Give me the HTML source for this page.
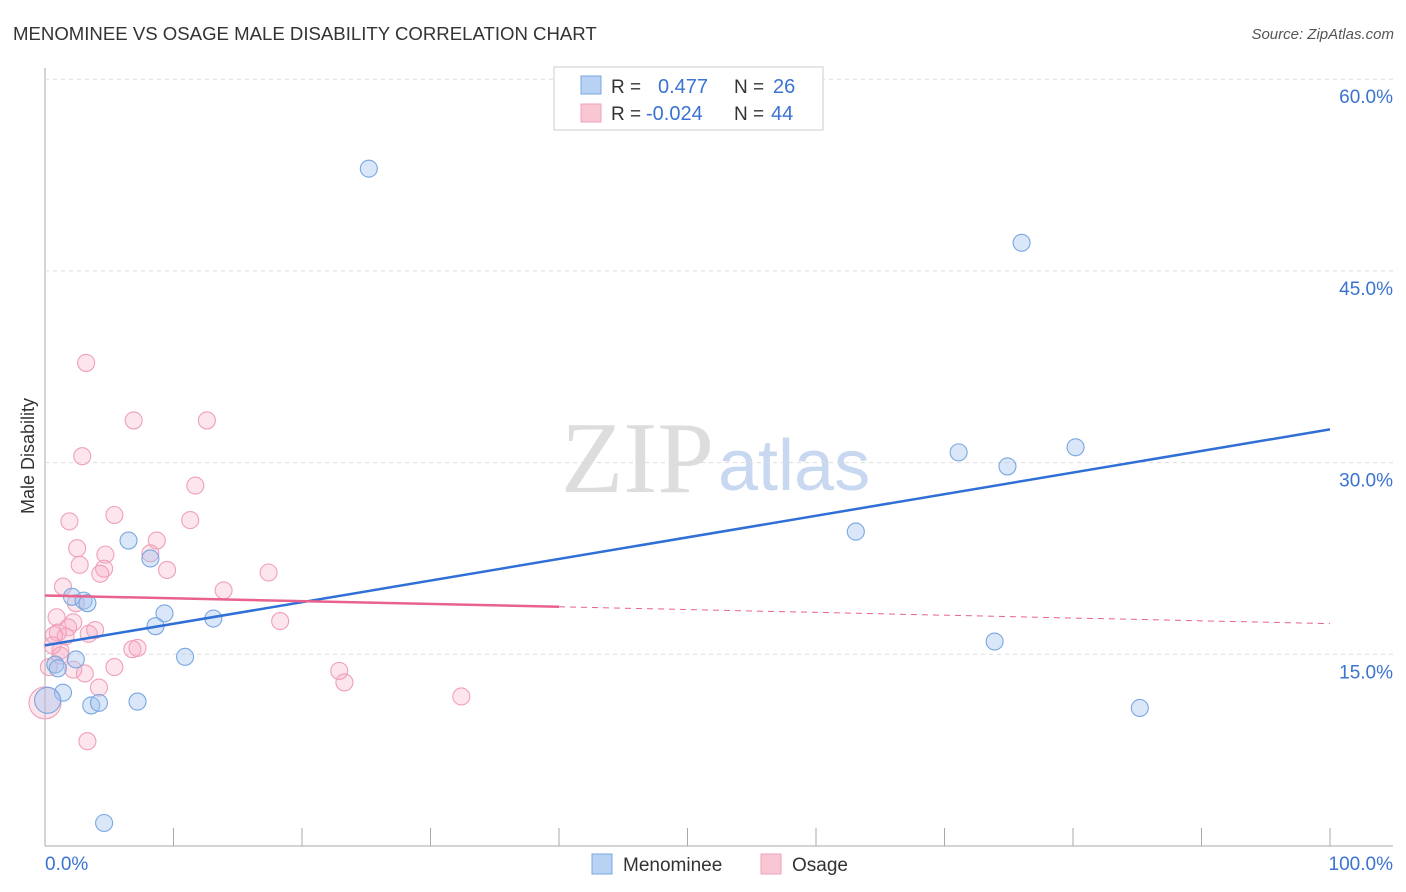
<!DOCTYPE html>
<html><head><meta charset="utf-8"><style>
body{margin:0;background:#fff;font-family:"Liberation Sans",sans-serif}
svg{display:block}
</style></head><body>
<svg id="c" width="1406" height="892">
<text x="13" y="40" font-size="18.6" fill="#333">MENOMINEE VS OSAGE MALE DISABILITY CORRELATION CHART</text>
<text x="1394" y="39" font-size="15" fill="#555" font-style="italic" text-anchor="end">Source: ZipAtlas.com</text>
<text x="714" y="492" font-size="102" font-family="Liberation Serif" fill="#ddd" text-anchor="end">ZIP</text>
<text x="718" y="490" font-size="72" fill="#c8d8f0">atlas</text>
<text transform="translate(34,456) rotate(-90)" font-size="18" fill="#333" text-anchor="middle">Male Disability</text>
<g id="grid"></g><g id="pts"></g><g id="lines"></g>
<g>
<rect x="554" y="67" width="269" height="63" fill="#fff" stroke="#ccc"/>
<rect x="581" y="76" width="20" height="18" fill="#b8d2f4" stroke="#7aa7e0"/>
<rect x="581" y="104" width="20" height="18" fill="#f9c6d4" stroke="#f0a0b8"/>
<text x="611" y="93" font-size="19" fill="#333">R = </text><text x="658" y="93" font-size="20" fill="#3b73d1">0.477</text>
<text x="734" y="93" font-size="19" fill="#333">N = </text><text x="773" y="93" font-size="20" fill="#3b73d1">26</text>
<text x="611" y="120" font-size="19" fill="#333">R = </text><text x="646" y="120" font-size="20" fill="#3b73d1">-0.024</text>
<text x="734" y="120" font-size="19" fill="#333">N = </text><text x="771" y="120" font-size="20" fill="#3b73d1">44</text>
</g>
<g>
<rect x="592" y="854" width="20" height="20" fill="#b8d2f4" stroke="#7aa7e0"/>
<text x="623" y="871" font-size="19" fill="#333">Menominee</text>
<rect x="761" y="854" width="20" height="20" fill="#f9c6d4" stroke="#f0a0b8"/>
<text x="792" y="871" font-size="19" fill="#333">Osage</text>
</g>
</svg>
<script>
const yTicks=[15,30,45,60];
const xLabels=["0.0%","100.0%"];
const blueX=[25.2,76.0,71.1,74.9,80.2,63.1,73.9,85.2,6.5,8.2,2.1,3.0,3.3,9.3,8.6,13.1,10.9,2.4,0.8,1.0,1.4,3.6,4.2,7.2,4.6,0.2];
const blueY=[53.0,47.2,30.8,29.7,31.2,24.6,16.0,10.8,23.9,22.5,19.5,19.2,19.0,18.2,17.2,17.8,14.8,14.6,14.2,13.9,12.0,11.0,11.2,11.3,1.8,11.4];
const pinkX=[3.2,6.9,12.6,2.9,11.7,1.9,5.4,11.3,2.5,8.7,4.7,8.2,2.7,4.6,4.3,9.5,17.4,13.9,1.4,2.4,0.9,2.2,1.8,3.9,3.4,1.6,1.0,0.7,18.3,1.2,0.3,2.2,3.1,5.4,6.8,7.2,22.9,23.3,4.2,32.4,3.3,0,0.6,1.2];
const pinkY=[37.8,33.3,33.3,30.5,28.2,25.4,25.9,25.5,23.3,23.9,22.8,22.9,22.0,21.7,21.3,21.6,21.4,20.0,20.3,19.0,17.9,17.5,17.1,16.9,16.6,16.4,16.7,16.5,17.6,15.3,14.0,13.8,13.5,14.0,15.4,15.5,13.7,12.8,12.4,11.7,8.2,11.2,15.7,14.9];
const blueTrend=[15.7,32.6];
const pinkTrend=[19.6,17.4];
const X=v=>45+v*12.85, Y=v=>846-v*12.78;
const NS="http://www.w3.org/2000/svg";
function mk(tag,attrs,parent){const e=document.createElementNS(NS,tag);for(const k in attrs)e.setAttribute(k,attrs[k]);document.getElementById(parent).appendChild(e);return e;}
mk('line',{x1:45,y1:68,x2:45,y2:846,stroke:'#aaa'},'grid');
mk('line',{x1:45,y1:846,x2:1393,y2:846,stroke:'#aaa'},'grid');
for(let i=0;i<=10;i++){const t=mk('line',{x1:X(i*10),y1:828,x2:X(i*10),y2:846,stroke:'#aaa'},'grid');

}
yTicks.forEach(v=>{const g=mk('line',{x1:45,y1:Y(v),x2:1393,y2:Y(v),stroke:'#ddd','stroke-dasharray':'4,4'},'grid');


const t=mk('text',{x:1393,y:Y(v)+24,'font-size':19,fill:'#3b73d1','text-anchor':'end'},'grid');t.textContent=v.toFixed(1)+'%';

});
const l0=mk('text',{x:45,y:870,'font-size':19,fill:'#3b73d1'},'grid');l0.textContent=xLabels[0];

const l1=mk('text',{x:1393,y:870,'font-size':19,fill:'#3b73d1','text-anchor':'end'},'grid');l1.textContent=xLabels[1];

pinkX.forEach((x,i)=>{const big=i===41;const c=mk('circle',{cx:X(x),cy:Y(pinkY[i]),r:big?16:8.5,fill:'rgba(248,170,195,0.3)',stroke:'#f0a0b8','stroke-width':1.1},'pts');

});
blueX.forEach((x,i)=>{const big=i===25;const c=mk('circle',{cx:X(x),cy:Y(blueY[i]),r:big?13:8.5,fill:'rgba(160,196,240,0.4)',stroke:'#7aa7e0','stroke-width':1.1},'pts');

});
const bl=mk('line',{x1:X(0),y1:Y(blueTrend[0]),x2:X(100),y2:Y(blueTrend[1]),stroke:'#2f6fd6','stroke-width':2.5},'lines');

const pm=v=>pinkTrend[0]+(pinkTrend[1]-pinkTrend[0])*v/100;
const ps=mk('line',{x1:X(0),y1:Y(pm(0)),x2:X(40),y2:Y(pm(40)),stroke:'#e8628c','stroke-width':2.5},'lines');

const pd=mk('line',{x1:X(40),y1:Y(pm(40)),x2:X(100),y2:Y(pm(100)),stroke:'#e8628c','stroke-width':1,'stroke-dasharray':'6,5'},'lines');

</script>
</body></html>
